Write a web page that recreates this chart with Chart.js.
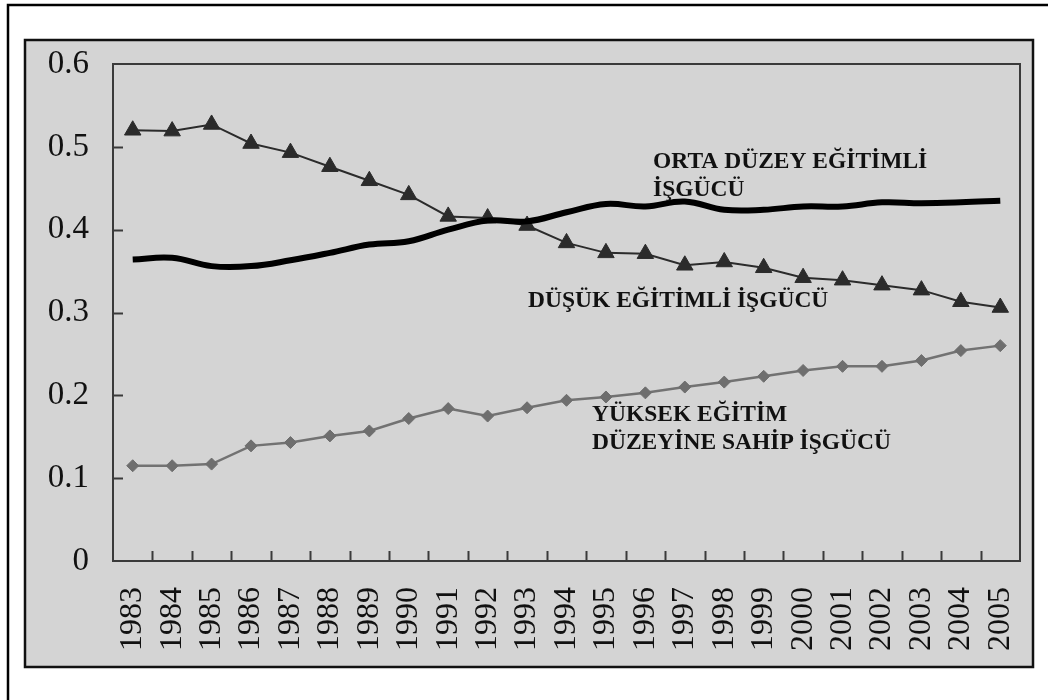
<!DOCTYPE html>
<html>
<head>
<meta charset="utf-8">
<script src="https://cdn.jsdelivr.net/npm/chart.js@4.4.1/dist/chart.umd.min.js"></script>
<style>
  html, body { margin: 0; padding: 0; background: #ffffff; }
  #wrap { width: 1048px; height: 700px; }
</style>
</head>
<body>
<div id="wrap"><canvas id="c" width="1048" height="700"></canvas></div>
<script>
// ---- Data ----
const years = ['1983','1984','1985','1986','1987','1988','1989','1990','1991','1992','1993','1994',
               '1995','1996','1997','1998','1999','2000','2001','2002','2003','2004','2005'];
const dusukEgitimli = [0.520,0.519,0.527,0.504,0.493,0.476,0.459,0.442,0.416,0.414,0.405,0.384,
                       0.372,0.371,0.357,0.361,0.354,0.342,0.339,0.333,0.327,0.313,0.306];
const ortaDuzey = [0.364,0.366,0.356,0.356,0.363,0.372,0.382,0.386,0.400,0.411,0.410,0.421,
                   0.431,0.428,0.434,0.424,0.424,0.428,0.428,0.433,0.432,0.433,0.435];
const yuksekEgitim = [0.115,0.115,0.117,0.139,0.143,0.151,0.157,0.172,0.184,0.175,0.185,0.194,
                      0.198,0.203,0.210,0.216,0.223,0.230,0.235,0.235,0.242,0.254,0.260];
const yTickLabels = ['0','0.1','0.2','0.3','0.4','0.5','0.6'];
const annotations = [
  { lines: ['ORTA DÜZEY EĞİTİMLİ', 'İŞGÜCÜ'], x: 653, y: 168 },
  { lines: ['DÜŞÜK EĞİTİMLİ İŞGÜCÜ'], x: 528, y: 307 },
  { lines: ['YÜKSEK EĞİTİM', 'DÜZEYİNE SAHİP İŞGÜCÜ'], x: 592, y: 421 }
];

const GRAY = '#d4d4d4';

const framePlugin = {
  id: 'frame',
  beforeDraw(chart) {
    const ctx = chart.ctx;
    ctx.save();
    ctx.fillStyle = '#ffffff';
    ctx.fillRect(0, 0, chart.width, chart.height);
    ctx.strokeStyle = '#000';
    ctx.lineWidth = 2.5;
    ctx.beginPath();
    ctx.moveTo(8, 700);
    ctx.lineTo(8, 5);
    ctx.lineTo(1048, 5);
    ctx.stroke();
    ctx.fillStyle = GRAY;
    ctx.fillRect(25, 40, 1008, 627);
    ctx.lineWidth = 2.5;
    ctx.strokeStyle = '#111';
    ctx.strokeRect(25, 40, 1008, 627);
    ctx.restore();
  },
  afterDatasetsDraw(chart) {
    const ctx = chart.ctx;
    const a = chart.chartArea;
    const xs = chart.scales.x, ys = chart.scales.y;
    ctx.save();
    ctx.strokeStyle = '#3a3a3a';
    ctx.lineWidth = 2;
    ctx.strokeRect(a.left, a.top, a.right - a.left, a.bottom - a.top);
    ctx.beginPath();
    for (let i = 1; i < years.length; i++) {
      const px = Math.round((xs.getPixelForTick(i - 1) + xs.getPixelForTick(i)) / 2) + 0.5;
      ctx.moveTo(px, a.bottom);
      ctx.lineTo(px, a.bottom - 10);
    }
    for (let i = 1; i < yTickLabels.length - 1; i++) {
      const py = Math.round(ys.getPixelForValue(parseFloat(yTickLabels[i]))) + 0.5;
      ctx.moveTo(a.left, py);
      ctx.lineTo(a.left + 10, py);
    }
    ctx.stroke();
    ctx.fillStyle = '#111';
    ctx.font = 'bold 23.5px "Liberation Serif", "Times New Roman", serif';
    ctx.textAlign = 'left';
    ctx.textBaseline = 'alphabetic';
    annotations.forEach(an => {
      an.lines.forEach((ln, k) => ctx.fillText(ln, an.x, an.y + k * 28));
    });
    ctx.restore();
  }
};

new Chart(document.getElementById('c'), {
  type: 'line',
  data: {
    labels: years,
    datasets: [
      {
        label: 'ORTA DÜZEY EĞİTİMLİ İŞGÜCÜ',
        data: ortaDuzey,
        borderColor: '#000',
        borderWidth: 6,
        pointRadius: 0,
        tension: 0.4,
        fill: false
      },
      {
        label: 'DÜŞÜK EĞİTİMLİ İŞGÜCÜ',
        data: dusukEgitimli,
        borderColor: '#2b2b2b',
        borderWidth: 2,
        pointStyle: 'triangle',
        pointRadius: 9.5,
        pointBackgroundColor: '#2b2b2b',
        pointBorderColor: '#2b2b2b',
        pointBorderWidth: 1,
        tension: 0,
        fill: false
      },
      {
        label: 'YÜKSEK EĞİTİM DÜZEYİNE SAHİP İŞGÜCÜ',
        data: yuksekEgitim,
        borderColor: '#727272',
        borderWidth: 2.5,
        pointStyle: 'rectRot',
        pointRadius: 6,
        pointBackgroundColor: '#6e6e6e',
        pointBorderColor: '#6e6e6e',
        pointBorderWidth: 1,
        tension: 0,
        fill: false
      }
    ]
  },
  options: {
    responsive: false,
    animation: false,
    devicePixelRatio: 1,
    layout: { padding: { left: 13, top: 64, right: 28, bottom: 0 } },
    plugins: {
      legend: { display: false },
      tooltip: { enabled: false }
    },
    scales: {
      x: {
        type: 'category',
        offset: true,
        grid: { display: false, drawTicks: false },
        border: { display: false },
        ticks: {
          maxRotation: 90,
          minRotation: 90,
          autoSkip: false,
          padding: 26,
          color: '#111',
          font: { family: '"Liberation Serif", "Times New Roman", serif', size: 32 }
        },
        afterFit(scale) {
          scale.height = 139;
          scale.paddingLeft = 0; scale.paddingRight = 0;
        }
      },
      y: {
        min: 0,
        max: 0.6,
        grid: { display: false, drawTicks: false },
        border: { display: false },
        ticks: {
          stepSize: 0.1,
          padding: 24,
          color: '#111',
          font: { family: '"Liberation Serif", "Times New Roman", serif', size: 33 },
          callback: (v, i) => yTickLabels[i]
        },
        afterFit(scale) {
          scale.width = 100;
          scale.paddingTop = 0; scale.paddingBottom = 0;
        }
      }
    }
  },
  plugins: [framePlugin]
});
</script>
</body>
</html>
